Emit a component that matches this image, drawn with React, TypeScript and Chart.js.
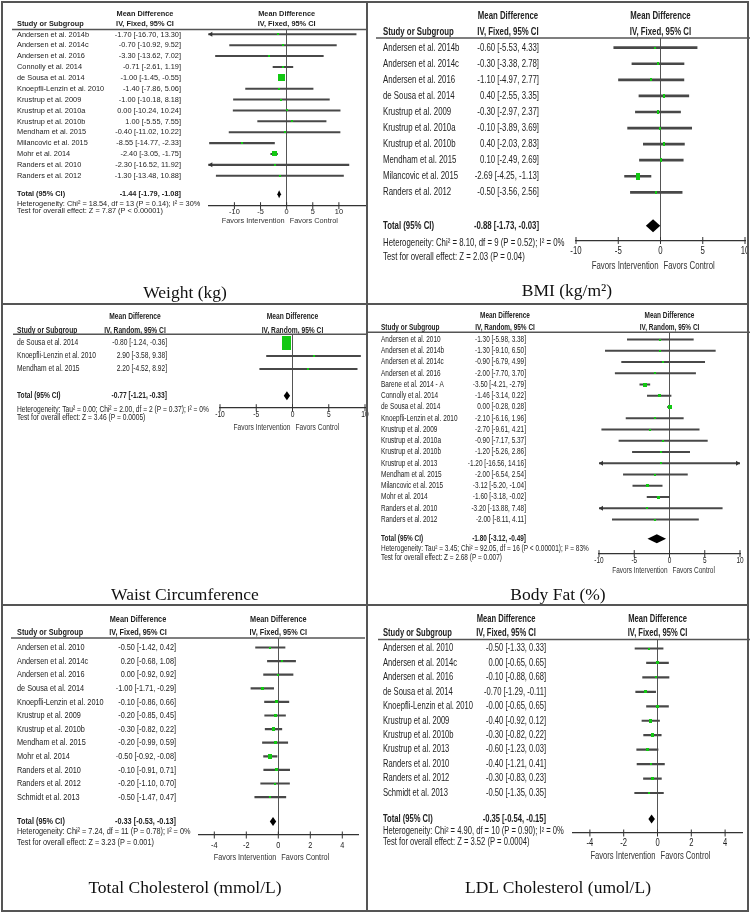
import React, { useEffect, useRef } from "react";
import { Chart, registerables } from "chart.js";

Chart.register(...registerables);

// ---------------- Weight (kg) ----------------
const weightStudies = [
  "Andersen et al. 2014b", "Andersen et al. 2014c", "Andersen et al. 2016", "Connolly et al. 2014",
  "de Sousa et al. 2014", "Knoepfli-Lenzin et al. 2010", "Krustrup et al. 2009", "Krustrup et al. 2010a",
  "Krustrup et al. 2010b", "Mendham et al. 2015", "Milancovic et al. 2015", "Mohr et al. 2014",
  "Randers et al. 2010", "Randers et al. 2012",
];
const weightMD = [-1.70, -0.70, -3.30, -0.71, -1.00, -1.40, -1.00, 0.00, 1.00, -0.40, -8.55, -2.40, -2.30, -1.30];
const weightLo = [-16.70, -10.92, -13.62, -2.61, -1.45, -7.86, -10.18, -10.24, -5.55, -11.02, -14.77, -3.05, -16.52, -13.48];
const weightHi = [13.30, 9.52, 7.02, 1.19, -0.55, 5.06, 8.18, 10.24, 7.55, 10.22, -2.33, -1.75, 11.92, 10.88];
const weightPct = [0.06, 0.12, 0.12, 3.6, 64.0, 0.31, 0.15, 0.12, 0.30, 0.12, 0.33, 30.7, 0.06, 0.09];
const weightTotal = [-1.44, -1.79, -1.08];
const weightHet = "Heterogeneity: Chi² = 18.54, df = 13 (P = 0.14); I² = 30%";
const weightTest = "Test for overall effect: Z = 7.87 (P < 0.00001)";
const weightTicks = [-10, -5, 0, 5, 10];

// ---------------- BMI ----------------
const bmiStudies = [
  "Andersen et al. 2014b", "Andersen et al. 2014c", "Andersen et al. 2016", "de Sousa et al. 2014",
  "Krustrup et al. 2009", "Krustrup et al. 2010a", "Krustrup et al. 2010b", "Mendham et al. 2015",
  "Milancovic et al. 2015", "Randers et al. 2012",
];
const bmiMD = [-0.60, -0.30, -1.10, 0.40, -0.30, -0.10, 0.40, 0.10, -2.69, -0.50];
const bmiLo = [-5.53, -3.38, -4.97, -2.55, -2.97, -3.89, -2.03, -2.49, -4.25, -3.56];
const bmiHi = [4.33, 2.78, 2.77, 3.35, 2.37, 3.69, 2.83, 2.69, -1.13, 2.56];
const bmiPct = [3.0, 7.7, 4.9, 8.4, 10.2, 5.1, 12.3, 10.8, 29.9, 7.8];
const bmiTotal = [-0.88, -1.73, -0.03];
const bmiHet = "Heterogeneity: Chi² = 8.10, df = 9 (P = 0.52); I² = 0%";
const bmiTest = "Test for overall effect: Z = 2.03 (P = 0.04)";
const bmiTicks = [-10, -5, 0, 5, 10];

// ---------------- Waist Circumference ----------------
const waistStudies = ["de Sousa et al. 2014", "Knoepfli-Lenzin et al. 2010", "Mendham et al. 2015"];
const waistMD = [-0.80, 2.90, 2.20];
const waistLo = [-1.24, -3.58, -4.52];
const waistHi = [-0.36, 9.38, 8.92];
const waistPct = [99.1, 0.46, 0.42];
const waistTotal = [-0.77, -1.21, -0.33];
const waistHet = "Heterogeneity: Tau² = 0.00; Chi² = 2.00, df = 2 (P = 0.37); I² = 0%";
const waistTest = "Test for overall effect: Z = 3.46 (P = 0.0005)";
const waistTicks = [-10, -5, 0, 5, 10];

// ---------------- Body Fat (%) ----------------
const fatStudies = [
  "Andersen et al. 2010", "Andersen et al. 2014b", "Andersen et al. 2014c", "Andersen et al. 2016",
  "Barene et al. 2014 - A", "Connolly et al. 2014", "de Sousa et al. 2014", "Knoepfli-Lenzin et al. 2010",
  "Krustrup et al. 2009", "Krustrup et al. 2010a", "Krustrup et al. 2010b", "Krustrup et al. 2013",
  "Mendham et al. 2015", "Milancovic et al. 2015", "Mohr et al. 2014", "Randers et al. 2010",
  "Randers et al. 2012",
];
const fatMD = [-1.30, -1.30, -0.90, -2.00, -3.50, -1.46, 0.00, -2.10, -2.70, -0.90, -1.20, -1.20, -2.00, -3.12, -1.60, -3.20, -2.00];
const fatLo = [-5.98, -9.10, -6.79, -7.70, -4.21, -3.14, -0.28, -6.16, -9.61, -7.17, -5.26, -16.56, -6.54, -5.20, -3.18, -13.88, -8.11];
const fatHi = [3.38, 6.50, 4.99, 3.70, -2.79, 0.22, 0.28, 1.96, 4.21, 5.37, 2.86, 14.16, 2.54, -1.04, -0.02, 7.48, 4.11];
const fatPct = [4.9, 2.3, 3.6, 3.8, 12.6, 10.7, 13.0, 5.8, 2.8, 3.3, 5.8, 0.7, 5.1, 9.8, 11.0, 1.4, 3.4];
const fatTotal = [-1.80, -3.12, -0.49];
const fatHet = "Heterogeneity: Tau² = 3.45; Chi² = 92.05, df = 16 (P < 0.00001); I² = 83%";
const fatTest = "Test for overall effect: Z = 2.68 (P = 0.007)";
const fatTicks = [-10, -5, 0, 5, 10];

// ---------------- Total Cholesterol ----------------
const tcStudies = [
  "Andersen et al. 2010", "Andersen et al. 2014c", "Andersen et al. 2016", "de Sousa et al. 2014",
  "Knoepfli-Lenzin et al. 2010", "Krustrup et al. 2009", "Krustrup et al. 2010b", "Mendham et al. 2015",
  "Mohr et al. 2014", "Randers et al. 2010", "Randers et al. 2012", "Schmidt et al. 2013",
];
const tcMD = [-0.50, 0.20, 0.00, -1.00, -0.10, -0.20, -0.30, -0.20, -0.50, -0.10, -0.20, -0.50];
const tcLo = [-1.42, -0.68, -0.92, -1.71, -0.86, -0.85, -0.82, -0.99, -0.92, -0.91, -1.10, -1.47];
const tcHi = [0.42, 1.08, 0.92, -0.29, 0.66, 0.45, 0.22, 0.59, -0.08, 0.71, 0.70, 0.47];
const tcPct = [4.8, 5.3, 4.8, 8.1, 7.1, 9.6, 15.1, 6.5, 23.1, 6.2, 5.0, 4.3];
const tcTotal = [-0.33, -0.53, -0.13];
const tcHet = "Heterogeneity: Chi² = 7.24, df = 11 (P = 0.78); I² = 0%";
const tcTest = "Test for overall effect: Z = 3.23 (P = 0.001)";
const tcTicks = [-4, -2, 0, 2, 4];

// ---------------- LDL Cholesterol ----------------
const ldlStudies = [
  "Andersen et al. 2010", "Andersen et al. 2014c", "Andersen et al. 2016", "de Sousa et al. 2014",
  "Knoepfli-Lenzin et al. 2010", "Krustrup et al. 2009", "Krustrup et al. 2010b", "Krustrup et al. 2013",
  "Randers et al. 2010", "Randers et al. 2012", "Schmidt et al. 2013",
];
const ldlMD = [-0.50, 0.00, -0.10, -0.70, -0.0, -0.40, -0.30, -0.60, -0.40, -0.30, -0.50];
const ldlLo = [-1.33, -0.65, -0.88, -1.29, -0.65, -0.92, -0.82, -1.23, -1.21, -0.83, -1.35];
const ldlHi = [0.33, 0.65, 0.68, -0.11, 0.65, 0.12, 0.22, 0.03, 0.41, 0.23, 0.35];
const ldlPct = [5.4, 8.7, 6.1, 10.6, 8.7, 13.7, 13.7, 9.3, 5.6, 13.1, 5.1];
const ldlTotal = [-0.35, -0.54, -0.15];
const ldlHet = "Heterogeneity: Chi² = 4.90, df = 10 (P = 0.90); I² = 0%";
const ldlTest = "Test for overall effect: Z = 3.52 (P = 0.0004)";
const ldlTicks = [-4, -2, 0, 2, 4];

const FIXED = "IV, Fixed, 95% CI";
const RANDOM = "IV, Random, 95% CI";
const FAVORS_LEFT = "Favors Intervention";
const FAVORS_RIGHT = "Favors Control";

// ---------------- layout ----------------
type Layout = {
  left: number; top: number; width: number; height: number;
  font: number; sx: number;
  studyX: number; ciRight: number; ciCenter: number;
  hdr1Y: number; hdr2Y: number;
  lines: { y: number; x0: number; x1: number }[];
  plotLineY: number; axisY: number; plotX0: number; plotX1: number;
  xMin: number; xMax: number;
  rowY0: number; dy: number; totIdx: number;
  hetY: number; testY: number; tickLabelY: number; favorsY: number;
  diamondH: number; sqK: number; sqAspect: number; lineW: number;
  titleX: number; titleY: number;
};

type PanelDef = {
  studies: string[]; md: number[]; lo: number[]; hi: number[]; pct: number[];
  total: number[]; method: string; het: string; test: string; ticks: number[];
  title: string; L: Layout;
};

const panels: PanelDef[] = [
  {
    studies: weightStudies, md: weightMD, lo: weightLo, hi: weightHi, pct: weightPct, total: weightTotal,
    method: FIXED, het: weightHet, test: weightTest, ticks: weightTicks, title: "Weight (kg)",
    L: {
      left: 0, top: 0, width: 370, height: 303, font: 8, sx: 0.92,
      studyX: 17, ciRight: 181, ciCenter: 145, hdr1Y: 14, hdr2Y: 24,
      lines: [{ y: 29.5, x0: 12, x1: 368 }],
      plotLineY: 29.5, axisY: 205.7, plotX0: 208.3, plotX1: 368.3, xMin: -15, xMax: 15,
      rowY0: 34.3, dy: 10.88, totIdx: 14.7, hetY: 203.3, testY: 210.7, tickLabelY: 211.7, favorsY: 221,
      diamondH: 8, sqK: 0.875, sqAspect: 1, lineW: 1.4, titleX: 185, titleY: 292,
    },
  },
  {
    studies: bmiStudies, md: bmiMD, lo: bmiLo, hi: bmiHi, pct: bmiPct, total: bmiTotal,
    method: FIXED, het: bmiHet, test: bmiTest, ticks: bmiTicks, title: "BMI (kg/m²)",
    L: {
      left: 367, top: 0, width: 383, height: 303, font: 11, sx: 0.71,
      studyX: 383, ciRight: 539, ciCenter: 508, hdr1Y: 15.7, hdr2Y: 32.3,
      lines: [{ y: 38, x0: 376, x1: 750 }],
      plotLineY: 38, axisY: 240.5, plotX0: 576, plotX1: 749, xMin: -10, xMax: 10,
      rowY0: 47.7, dy: 16.07, totIdx: 11.08, hetY: 243.3, testY: 256.7, tickLabelY: 251, favorsY: 266,
      diamondH: 13, sqK: 1.22, sqAspect: 0.55, lineW: 2, titleX: 567, titleY: 290,
    },
  },
  {
    studies: waistStudies, md: waistMD, lo: waistLo, hi: waistHi, pct: waistPct, total: waistTotal,
    method: RANDOM, het: waistHet, test: waistTest, ticks: waistTicks, title: "Waist Circumference",
    L: {
      left: 0, top: 304, width: 370, height: 301, font: 9, sx: 0.74,
      studyX: 17, ciRight: 167, ciCenter: 135, hdr1Y: 316.7, hdr2Y: 330.7,
      lines: [{ y: 334.3, x0: 13, x1: 367 }],
      plotLineY: 334.3, axisY: 407.7, plotX0: 220, plotX1: 365.4, xMin: -10, xMax: 10,
      rowY0: 343, dy: 13, totIdx: 4.05, hetY: 409.7, testY: 417.3, tickLabelY: 414.5, favorsY: 428,
      diamondH: 9, sqK: 1.406, sqAspect: 0.64, lineW: 1.5, titleX: 185, titleY: 594,
    },
  },
  {
    studies: fatStudies, md: fatMD, lo: fatLo, hi: fatHi, pct: fatPct, total: fatTotal,
    method: RANDOM, het: fatHet, test: fatTest, ticks: fatTicks, title: "Body Fat (%)",
    L: {
      left: 367, top: 304, width: 383, height: 301, font: 8.5, sx: 0.76,
      studyX: 381, ciRight: 526, ciCenter: 505, hdr1Y: 315.7, hdr2Y: 327.3,
      lines: [{ y: 332.3, x0: 368, x1: 750 }],
      plotLineY: 332.3, axisY: 553.6, plotX0: 599, plotX1: 740, xMin: -10, xMax: 10,
      rowY0: 339.5, dy: 11.25, totIdx: 17.7, hetY: 548.7, testY: 557.3, tickLabelY: 560.6, favorsY: 570.7,
      diamondH: 9, sqK: 1.0, sqAspect: 0.9, lineW: 1.5, titleX: 558, titleY: 594,
    },
  },
  {
    studies: tcStudies, md: tcMD, lo: tcLo, hi: tcHi, pct: tcPct, total: tcTotal,
    method: FIXED, het: tcHet, test: tcTest, ticks: tcTicks, title: "Total Cholesterol (mmol/L)",
    L: {
      left: 0, top: 605, width: 370, height: 308, font: 9.5, sx: 0.77,
      studyX: 17, ciRight: 176, ciCenter: 138, hdr1Y: 619, hdr2Y: 632,
      lines: [{ y: 638, x0: 11, x1: 365 }],
      plotLineY: 638, axisY: 835, plotX0: 198.3, plotX1: 358.3, xMin: -5, xMax: 5,
      rowY0: 647.5, dy: 13.6, totIdx: 12.8, hetY: 831, testY: 842, tickLabelY: 845.5, favorsY: 857,
      diamondH: 9, sqK: 1.04, sqAspect: 0.85, lineW: 1.5, titleX: 185, titleY: 887,
    },
  },
  {
    studies: ldlStudies, md: ldlMD, lo: ldlLo, hi: ldlHi, pct: ldlPct, total: ldlTotal,
    method: FIXED, het: ldlHet, test: ldlTest, ticks: ldlTicks, title: "LDL Cholesterol (umol/L)",
    L: {
      left: 367, top: 605, width: 383, height: 308, font: 10, sx: 0.76,
      studyX: 383, ciRight: 546, ciCenter: 506, hdr1Y: 619, hdr2Y: 633,
      lines: [{ y: 639.5, x0: 378, x1: 750 }],
      plotLineY: 639.5, axisY: 833, plotX0: 573, plotX1: 742, xMin: -5, xMax: 5,
      rowY0: 648.5, dy: 14.45, totIdx: 11.8, hetY: 831, testY: 842, tickLabelY: 843, favorsY: 856,
      diamondH: 9, sqK: 0.95, sqAspect: 0.85, lineW: 1.5, titleX: 558, titleY: 887,
    },
  },
];

const FONT = '"Liberation Sans", Arial, Helvetica, sans-serif';
const GREEN = "#12c812";
const TEXT = "#222";

const fmt = (v: number) => (Object.is(v, -0) ? "-" : "") + v.toFixed(2);
const ciText = (m: number, l: number, h: number) => `${fmt(m)} [${fmt(l)}, ${fmt(h)}]`;

function drawText(
  ctx: CanvasRenderingContext2D, s: string, x: number, y: number, align: CanvasTextAlign,
  size: number, sx: number, bold = false, color = TEXT,
) {
  ctx.save();
  ctx.font = `${bold ? "bold " : ""}${size}px ${FONT}`;
  ctx.fillStyle = color;
  ctx.textAlign = align;
  ctx.textBaseline = "middle";
  ctx.translate(x, y);
  ctx.scale(sx, 1);
  ctx.fillText(s, 0, 0);
  ctx.restore();
}

const sqCache: Record<string, HTMLCanvasElement> = {};
function squareImg(w: number, h: number) {
  const k = w + "x" + h;
  if (!sqCache[k]) {
    const c = document.createElement("canvas");
    c.width = w;
    c.height = h;
    const g = c.getContext("2d")!;
    g.fillStyle = GREEN;
    g.fillRect(0, 0, w, h);
    sqCache[k] = c;
  }
  return sqCache[k];
}

function makePlugin(p: PanelDef) {
  const L = p.L;
  return {
    id: "forest",
    afterDraw(chart: any) {
      const ctx: CanvasRenderingContext2D = chart.ctx;
      const xs = chart.scales.x;
      const ys = chart.scales.y;
      const area = chart.chartArea;
      const ox = L.left;
      const oy = L.top;
      const T = (s: string, x: number, y: number, a: CanvasTextAlign, b = false, c = TEXT) =>
        drawText(ctx, s, x, y, a, L.font, L.sx, b, c);
      const zx = xs.getPixelForValue(0);

      // headers
      T("Study or Subgroup", L.studyX - ox, L.hdr2Y - oy, "left", true);
      T("Mean Difference", L.ciCenter - ox, L.hdr1Y - oy, "center", true);
      T(p.method, L.ciCenter - ox, L.hdr2Y - oy, "center", true);
      T("Mean Difference", zx, L.hdr1Y - oy, "center", true);
      T(p.method, zx, L.hdr2Y - oy, "center", true);

      ctx.save();
      ctx.strokeStyle = "#555";
      ctx.lineWidth = 1.5;
      L.lines.forEach((ln) => {
        ctx.beginPath();
        ctx.moveTo(ln.x0 - ox, ln.y - oy);
        ctx.lineTo(ln.x1 - ox, ln.y - oy);
        ctx.stroke();
      });
      ctx.restore();

      // study rows
      ctx.save();
      ctx.fillStyle = "#333";
      p.studies.forEach((s, i) => {
        const y = ys.getPixelForValue(i);
        T(s, L.studyX - ox, y, "left");
        T(ciText(p.md[i], p.lo[i], p.hi[i]), L.ciRight - ox, y, "right");
        if (p.lo[i] < L.xMin) {
          ctx.beginPath();
          ctx.moveTo(area.left, y);
          ctx.lineTo(area.left + 4, y - 2.5);
          ctx.lineTo(area.left + 4, y + 2.5);
          ctx.closePath();
          ctx.fill();
        }
        if (p.hi[i] > L.xMax) {
          ctx.beginPath();
          ctx.moveTo(area.right, y);
          ctx.lineTo(area.right - 4, y - 2.5);
          ctx.lineTo(area.right - 4, y + 2.5);
          ctx.closePath();
          ctx.fill();
        }
      });
      ctx.restore();

      // total row
      const yt = ys.getPixelForValue(L.totIdx);
      T("Total (95% CI)", L.studyX - ox, yt, "left", true);
      T(ciText(p.total[0], p.total[1], p.total[2]), L.ciRight - ox, yt, "right", true);
      T(p.het, L.studyX - ox, L.hetY - oy, "left");
      T(p.test, L.studyX - ox, L.testY - oy, "left");

      // diamond
      const dl = xs.getPixelForValue(p.total[1]);
      const dm = xs.getPixelForValue(p.total[0]);
      const dr = xs.getPixelForValue(p.total[2]);
      ctx.save();
      ctx.fillStyle = "#000";
      ctx.beginPath();
      ctx.moveTo(dl, yt);
      ctx.lineTo(dm, yt - L.diamondH / 2);
      ctx.lineTo(dr, yt);
      ctx.lineTo(dm, yt + L.diamondH / 2);
      ctx.closePath();
      ctx.fill();
      ctx.restore();

      // axis ticks and labels
      const ay = L.axisY - oy;
      ctx.save();
      ctx.strokeStyle = "#333";
      ctx.lineWidth = 1;
      p.ticks.forEach((v) => {
        const x = xs.getPixelForValue(v);
        ctx.beginPath();
        ctx.moveTo(x, ay - 3.5);
        ctx.lineTo(x, ay + 3.5);
        ctx.stroke();
        T(String(v), x, L.tickLabelY - oy, "center");
      });
      ctx.restore();
      T(FAVORS_LEFT, zx - 2, L.favorsY - oy, "right", false, "#333");
      T(FAVORS_RIGHT, zx + 3, L.favorsY - oy, "left", false, "#333");
    },
  };
}

function ForestPanel({ p }: { p: PanelDef }) {
  const ref = useRef<HTMLCanvasElement>(null);
  const L = p.L;
  useEffect(() => {
    const canvas = ref.current;
    if (!canvas) return;
    const chart = new Chart(canvas, {
      type: "bar",
      data: {
        datasets: [
          {
            type: "bar",
            indexAxis: "y",
            order: 2,
            data: p.studies.map((_, i) => ({ x: [p.lo[i], p.hi[i]], y: i })),
            backgroundColor: "#484848",
            borderWidth: 0,
            barThickness: L.lineW,
            grouped: false,
          } as any,
          {
            type: "scatter",
            order: 1,
            data: p.studies.map((_, i) => ({ x: p.md[i], y: i })),
            pointRadius: 3,
            pointStyle: (c: any) => {
              const i = c.dataIndex ?? 0;
              const h = Math.max(2, Math.round(L.sqK * Math.sqrt(p.pct[i])));
              const w = Math.max(2, Math.round(h * L.sqAspect));
              return squareImg(w, h);
            },
          } as any,
        ],
      },
      options: {
        responsive: false,
        animation: false,
        devicePixelRatio: 1,
        events: [],
        layout: {
          padding: {
            left: L.plotX0 - L.left,
            right: L.left + L.width - L.plotX1,
            top: L.plotLineY - L.top,
            bottom: L.top + L.height - L.axisY,
          },
        },
        plugins: { legend: { display: false }, tooltip: { enabled: false } },
        scales: {
          x: {
            type: "linear",
            min: L.xMin,
            max: L.xMax,
            offset: false,
            beginAtZero: false,
            bounds: "data",
            afterBuildTicks: (s: any) => {
              s.ticks = p.ticks.map((v) => ({ value: v }));
            },
            afterFit: (s: any) => {
              s.height = 0;
            },
            ticks: { display: false },
            grid: {
              offset: false,
              drawTicks: false,
              tickLength: 0,
              lineWidth: 1,
              color: (c: any) => (c.tick && c.tick.value === 0 ? "#555" : "rgba(0,0,0,0)"),
            },
            border: { display: true, color: "#333", width: 1.2 },
          },
          y: {
            type: "linear",
            display: false,
            reverse: true,
            offset: false,
            beginAtZero: false,
            bounds: "data",
            grid: { offset: false },
            min: (L.plotLineY - L.rowY0) / L.dy,
            max: (L.axisY - L.rowY0) / L.dy,
          },
        },
      } as any,
      plugins: [makePlugin(p)],
    });
    return () => chart.destroy();
  }, [p]);
  return (
    <canvas
      ref={ref}
      width={L.width}
      height={L.height}
      style={{ position: "absolute", left: L.left, top: L.top, width: L.width, height: L.height }}
    />
  );
}

const lineStyle = (l: number, t: number, w: number, h: number): React.CSSProperties => ({
  position: "absolute", left: l, top: t, width: w, height: h, background: "#555",
});

export default function App() {
  return (
    <div
      style={{
        position: "absolute", left: 0, top: 0, width: 750, height: 913,
        background: "#fff", overflow: "hidden",
      }}
    >
      {panels.map((p, i) => (
        <ForestPanel key={i} p={p} />
      ))}
      {panels.map((p, i) => (
        <div
          key={"t" + i}
          style={{
            position: "absolute", left: p.L.titleX - 200, width: 400, top: p.L.titleY - 11,
            height: 22, lineHeight: "22px", textAlign: "center",
            fontFamily: '"Liberation Serif", "Times New Roman", serif', fontSize: 17.5, color: "#111",
            whiteSpace: "nowrap",
          }}
        >
          {p.title}
        </div>
      ))}
      <div style={lineStyle(1, 1, 748, 2)} />
      <div style={lineStyle(1, 910, 748, 2)} />
      <div style={lineStyle(1, 1, 2, 911)} />
      <div style={lineStyle(747, 1, 2, 911)} />
      <div style={lineStyle(366, 1, 2, 911)} />
      <div style={lineStyle(1, 303, 748, 2)} />
      <div style={lineStyle(1, 604, 748, 2)} />
    </div>
  );
}
